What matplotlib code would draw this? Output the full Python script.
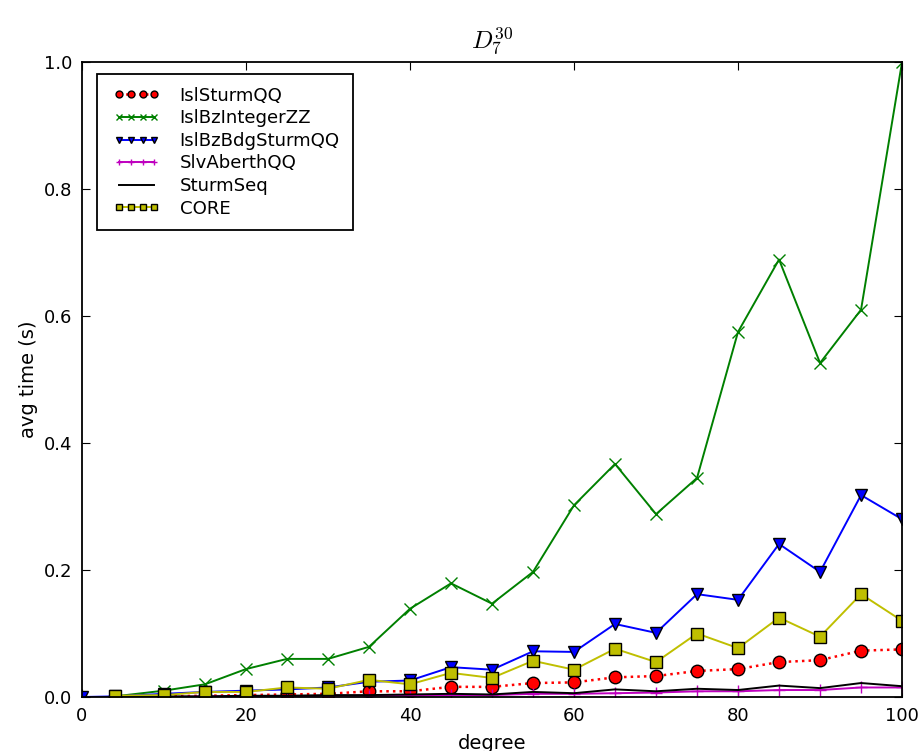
import matplotlib
matplotlib.use("Agg")
import matplotlib.pyplot as plt
from matplotlib.lines import Line2D
from matplotlib.legend_handler import HandlerLine2D

# degrees
deg = [4, 10, 15, 20, 25, 30, 35, 40, 45, 50, 55, 60, 65, 70, 75, 80, 85, 90, 95, 100]
deg_bdg = [0] + deg

# avg times (s)
isl_sturm = [0.000, 0.001, 0.002, 0.003, 0.004, 0.005, 0.009, 0.009, 0.016, 0.016,
             0.022, 0.023, 0.031, 0.033, 0.041, 0.044, 0.055, 0.058, 0.073, 0.075]
isl_bz_int = [0.001, 0.010, 0.020, 0.044, 0.060, 0.060, 0.079, 0.139, 0.179, 0.147,
              0.197, 0.302, 0.367, 0.288, 0.345, 0.575, 0.689, 0.526, 0.610, 1.000]
isl_bz_bdg = [0.000, 0.001, 0.005, 0.008, 0.010, 0.012, 0.015, 0.024, 0.026, 0.047, 0.043,
              0.072, 0.071, 0.115, 0.101, 0.162, 0.153, 0.241, 0.197, 0.318, 0.280]
slv_aberth = [0.000, 0.000, 0.001, 0.001, 0.001, 0.002, 0.002, 0.002, 0.003, 0.003,
              0.005, 0.005, 0.006, 0.007, 0.009, 0.009, 0.011, 0.011, 0.015, 0.015]
sturm_seq = [0.000, 0.001, 0.001, 0.002, 0.002, 0.003, 0.003, 0.004, 0.005, 0.004,
             0.008, 0.006, 0.012, 0.009, 0.013, 0.011, 0.018, 0.014, 0.022, 0.017]
core = [0.002, 0.003, 0.008, 0.008, 0.015, 0.013, 0.027, 0.020, 0.038, 0.030,
        0.057, 0.043, 0.076, 0.055, 0.100, 0.077, 0.125, 0.095, 0.162, 0.120]

plt.rcParams['font.size'] = 12
plt.rcParams['xtick.direction'] = 'in'
plt.rcParams['ytick.direction'] = 'in'
plt.rcParams['xtick.top'] = True
plt.rcParams['ytick.right'] = True
plt.rcParams['xtick.major.size'] = 6
plt.rcParams['ytick.major.size'] = 6
plt.rcParams['mathtext.fontset'] = 'cm'

fig = plt.figure(figsize=(9.23, 7.51), dpi=100)
ax = fig.add_axes([0.0888, 0.0719, 0.8885, 0.8455])

ax.plot(deg, isl_sturm, 'o:', color='red', mec='black', ms=9, lw=1.8, label='IslSturmQQ')
ax.plot(deg, isl_bz_int, 'x-', color='green', mec='green', ms=9, lw=1.4, label='IslBzIntegerZZ')
ax.plot(deg_bdg, isl_bz_bdg, 'v-', color='blue', mec='black', ms=9, lw=1.4, label='IslBzBdgSturmQQ')
ax.plot(deg, slv_aberth, '+-', color='#bf00bf', ms=9, lw=1.4, label='SlvAberthQQ')
ax.plot(deg, sturm_seq, '-', color='black', lw=1.4, label='SturmSeq')
ax.plot(deg, core, 's-', color='#bfbf00', mec='black', ms=9, lw=1.4, label='CORE')

ax.set_xlim(0, 100)
ax.set_ylim(0, 1.0)
ax.set_xticks([0, 20, 40, 60, 80, 100])
ax.set_yticks([0.0, 0.2, 0.4, 0.6, 0.8, 1.0])
ax.tick_params(labelsize=13, pad=7)
for s in ax.spines.values():
    s.set_linewidth(1.3)

ax.set_xlabel('degree', fontsize=14, labelpad=7)
ax.set_ylabel('avg time (s)', fontsize=14)
ax.set_title(r'$D_7^{30}$', fontsize=18, pad=10)

leg = ax.legend(loc='upper left', markerscale=0.55, fancybox=False,
                framealpha=1, edgecolor='black', fontsize=13.1, handlelength=3.0,
                handletextpad=0.86, labelspacing=0.25, borderpad=0.7, borderaxespad=0,
                bbox_to_anchor=(0.018, 0.981),
                handler_map={Line2D: HandlerLine2D(marker_pad=0.55, numpoints=4)})
leg.get_frame().set_linewidth(1.3)

fig.savefig('out.png', dpi=100)
